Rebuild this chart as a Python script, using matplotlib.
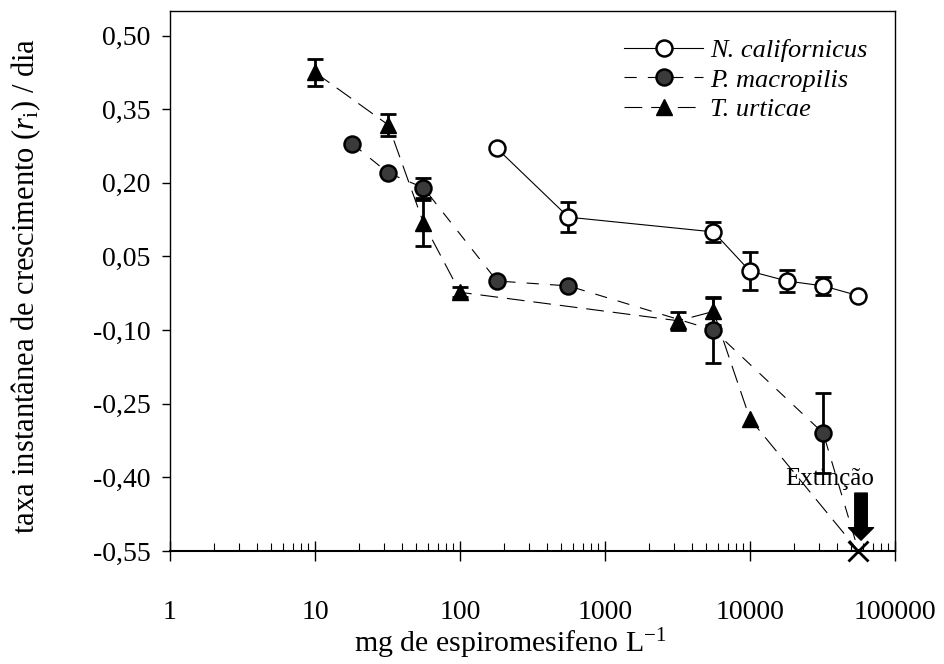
import numpy as np
import matplotlib
matplotlib.use('Agg')
import matplotlib.pyplot as plt
from matplotlib.lines import Line2D

plt.rcParams['font.family'] = ['Liberation Serif', 'DejaVu Serif']
plt.rcParams['mathtext.fontset'] = 'custom'
plt.rcParams['mathtext.rm'] = 'Liberation Serif'
plt.rcParams['mathtext.it'] = 'Liberation Serif:italic'

# concentrações (mg/L) e taxas de crescimento por espécie
nc_x = [180, 560, 5600, 10000, 18000, 32000, 56000]
nc_y = [0.27, 0.13, 0.10, 0.02, 0.0, -0.01, -0.03]
nc_err = [0, 0.031, 0.02, 0.039, 0.023, 0.019, 0]

pm_x = [18, 32, 56, 180, 560, 5600, 32000]
pm_y = [0.28, 0.22, 0.19, 0.0, -0.01, -0.10, -0.31]
pm_err = [0, 0, 0.02, 0, 0, 0.068, 0.082]

tu_x = [10, 32, 56, 100, 3200, 5600, 10000]
tu_y = [0.425, 0.318, 0.118, -0.023, -0.081, -0.062, -0.281]
tu_err = [0.028, 0.022, 0.047, 0.01, 0.018, 0.027, 0]

# ponto de extinção
ext_x = 56000
ext_y = -0.55

yticks = [0.50, 0.35, 0.20, 0.05, -0.10, -0.25, -0.40, -0.55]
ytick_labels = ['0,50', '0,35', '0,20', '0,05', '-0,10', '-0,25', '-0,40', '-0,55']
xticks = [1, 10, 100, 1000, 10000, 100000]
xtick_labels = ['1', '10', '100', '1000', '10000', '100000']

fig = plt.figure(figsize=(9.44, 6.64), dpi=100)
ax = fig.add_axes([170 / 944, 1 - 551 / 664, 725 / 944, 540 / 664])

fs = 20
ls_pm = (0, (11, 10))
ls_tu = (0, (16, 8))

# linhas de ligação
ax.plot(nc_x, nc_y, color='black', lw=0.8, zorder=2)
ax.plot(pm_x + [ext_x], pm_y + [ext_y], color='black', lw=0.8, linestyle=ls_pm, zorder=2)
ax.plot(tu_x + [ext_x], tu_y + [ext_y], color='black', lw=0.8, linestyle=ls_tu, zorder=2)

# barras de erro
for xs, ys, es in [(nc_x, nc_y, nc_err), (pm_x, pm_y, pm_err), (tu_x, tu_y, tu_err)]:
    xs_e = [x for x, e in zip(xs, es) if e > 0]
    ys_e = [y for y, e in zip(ys, es) if e > 0]
    es_e = [e for e in es if e > 0]
    ax.errorbar(xs_e, ys_e, yerr=es_e, fmt='none', ecolor='black',
                elinewidth=2, capsize=6, capthick=2, zorder=3)

# marcadores
ax.plot(nc_x, nc_y, 'o', ms=11.5, mfc='white', mec='black', mew=1.8, zorder=4)
ax.plot(pm_x, pm_y, 'o', ms=11.5, mfc='#3a3a3a', mec='black', mew=1.8, zorder=4)
ax.plot(tu_x, tu_y, '^', ms=12, mfc='black', mec='black', mew=1, zorder=4)
ax.plot([ext_x], [ext_y], 'x', ms=14, mec='black', mew=2, clip_on=False, zorder=5)

# seta de extinção
ax.annotate('', xy=(58300, -0.528), xytext=(58300, -0.432),
            arrowprops=dict(facecolor='black', edgecolor='black',
                            width=9, headwidth=18, headlength=9))
ax.text(35600, -0.403, 'Extinção', ha='center', va='center', fontsize=18)

ax.set_xscale('log')
ax.set_xlim(1, 100000)
ax.set_ylim(-0.55, 0.55)
ax.set_xticks(xticks)
ax.set_xticklabels(xtick_labels, fontsize=fs)
ax.set_yticks(yticks)
ax.set_yticklabels(ytick_labels, fontsize=fs)
ax.tick_params(axis='x', which='major', direction='inout', length=14, width=1, pad=28)
ax.tick_params(axis='x', which='minor', direction='in', length=6, width=0.8)
ax.tick_params(axis='y', which='major', direction='out', length=6, width=1, pad=8)
for sp in ax.spines.values():
    sp.set_linewidth(1)
ax.spines['bottom'].set_linewidth(1.5)

ax.set_xlabel('mg de espiromesifeno L$^{\\mathrm{-1}}$', fontsize=21.5)
ax.set_ylabel('taxa instantânea de crescimento ($\\mathit{r}_{\\mathrm{i}}$) / dia', fontsize=22)
ax.yaxis.set_label_coords(-0.175, 0.49)
ax.xaxis.set_label_coords(0.47, -0.14)

handles = [
    Line2D([], [], color='black', lw=0.8, marker='o', ms=11.5, mfc='white', mec='black', mew=1.8),
    Line2D([], [], color='black', lw=0.8, linestyle=ls_pm, marker='o', ms=11.5, mfc='#3a3a3a', mec='black', mew=1.8),
    Line2D([], [], color='black', lw=0.8, linestyle=ls_tu, marker='^', ms=12, mfc='black', mec='black'),
]
labels = ['N. californicus', 'P. macropilis', 'T. urticae']
leg = ax.legend(handles, labels, loc='upper left', bbox_to_anchor=(0.612, 0.968), frameon=False,
                prop={'family': 'Liberation Serif', 'style': 'italic', 'size': 19},
                handlelength=3.0, handletextpad=0.25, labelspacing=0.22, borderaxespad=0)

fig.savefig('out.png', dpi=100)
